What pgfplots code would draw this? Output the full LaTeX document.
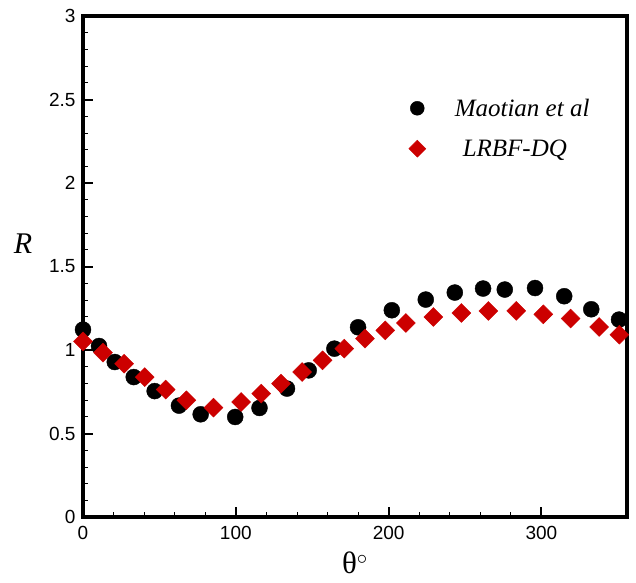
\documentclass[border=0pt]{standalone}
\usepackage{pgfplots}
\pgfplotsset{compat=1.18}
\usepackage{fontspec}
\setmainfont{Liberation Serif}
\setsansfont{Liberation Sans}
\definecolor{lrbfred}{RGB}{204,0,0}

\begin{document}
\begin{tikzpicture}
\begin{axis}[
    scale only axis,
    width=544pt, height=501pt,
    xmin=0, xmax=356, ymin=0, ymax=3,
    xtick={0,100,200,300},
    ytick={0,0.5,1,1.5,2,2.5,3},
    minor x tick num=4, minor y tick num=4,
    tick pos=left, tick align=inside,
    major tick length=10pt, minor tick length=5pt,
    every major tick/.append style={line width=2pt, black},
    every minor tick/.append style={line width=0.8pt, black},
    axis line style={line width=3.8pt},
    ticklabel style={font=\sffamily\fontsize{19}{22}\selectfont},
    xticklabel style={yshift=-6pt},
    yticklabel style={xshift=-4pt},
    /pgf/number format/assume math mode=true,
    xlabel={θ$^{\circ}$},
    xlabel style={font=\fontsize{31}{34}\selectfont, at={(axis description cs:0.5,-0.062)}, anchor=north},
    ylabel={\textit{R}},
    ylabel style={font=\fontsize{30}{34}\selectfont, rotate=-90, at={(axis description cs:-0.11,0.545)}, anchor=center},
    legend style={draw=none, fill=none, at={(0.593,0.843)}, anchor=north west,
        font=\itshape\fontsize{25}{29}\selectfont, row sep=18pt},
    legend cell align=left,
]
\addlegendimage{only marks, mark=*, mark size=7pt, black}
\addlegendentry{\hspace{27pt}Maotian et al}
\addlegendimage{only marks, mark=square*, mark size=6pt, mark options={rotate=45}, draw=lrbfred, fill=lrbfred}
\addlegendentry{\hspace{35pt}LRBF-DQ}
% Maotian et al
\addplot[only marks, mark=*, mark size=8pt, black, forget plot] coordinates {
    (0,1.122) (10.5,1.024) (20.8,0.928) (33.2,0.838) (46.9,0.754)
    (62.8,0.667) (77,0.615) (99.6,0.599) (115.5,0.653) (133.5,0.769)
    (147.7,0.878) (164.5,1.008) (180,1.136) (202.1,1.238) (224.3,1.302)
    (243.3,1.344) (261.8,1.368) (276,1.362) (295.8,1.371) (314.9,1.322)
    (332.6,1.244) (350.8,1.182)
};
% LRBF-DQ
\addplot[only marks, mark=square*, mark size=6.7pt, mark options={rotate=45}, draw=lrbfred, fill=lrbfred, forget plot] coordinates {
    (0,1.052) (13.1,0.984) (26.9,0.918) (40.4,0.838) (54.1,0.763)
    (67.6,0.699) (85.4,0.655) (103.5,0.689) (116.6,0.739) (129.6,0.799)
    (143.4,0.868) (156.8,0.938) (171,1.008) (184.5,1.068) (197.8,1.118)
    (211.3,1.162) (229.3,1.198) (247.6,1.222) (265.3,1.234) (283.5,1.234)
    (301.2,1.214) (319.1,1.188) (337.8,1.138) (351,1.092)
};
\end{axis}
\path ([shift={(-83pt,-65pt)}]current axis.south west) rectangle ([shift={(9pt,16pt)}]current axis.north east);
\end{tikzpicture}
\end{document}
